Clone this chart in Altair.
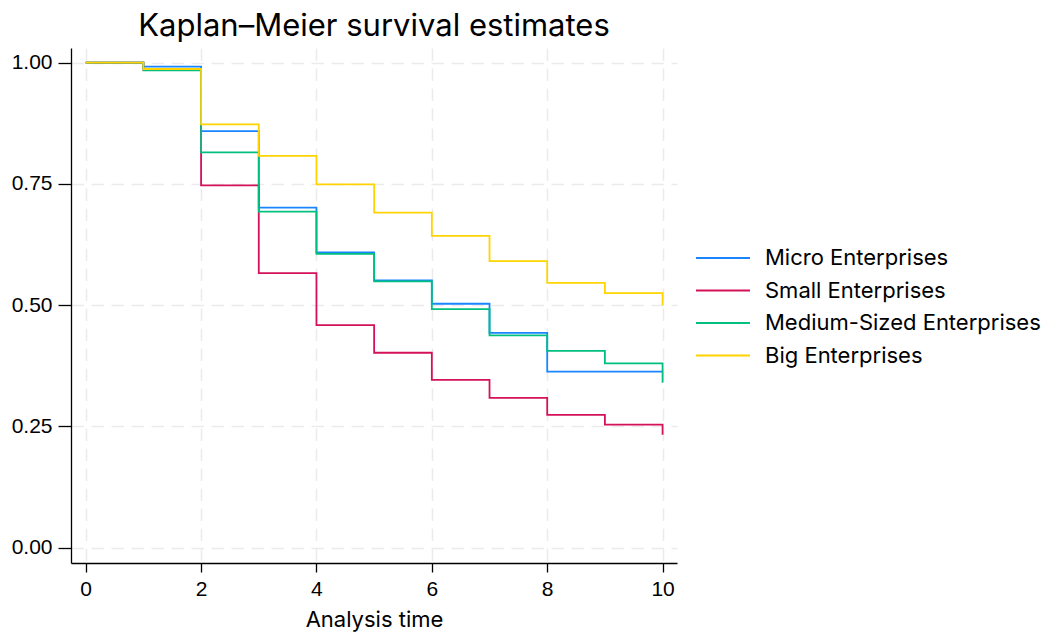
import altair as alt
import pandas as pd

times = [0, 1, 2, 3, 4, 5, 6, 7, 8, 9, 10]
groups = ["Micro Enterprises", "Small Enterprises", "Medium-Sized Enterprises", "Big Enterprises"]
micro = [1.000, 0.992, 0.859, 0.701, 0.609, 0.551, 0.503, 0.443, 0.363, 0.363, 0.363]
small = [1.000, 0.985, 0.747, 0.566, 0.459, 0.402, 0.346, 0.309, 0.274, 0.254, 0.233]
medium = [1.000, 0.984, 0.815, 0.693, 0.606, 0.549, 0.492, 0.438, 0.406, 0.380, 0.340]
big = [1.000, 0.987, 0.873, 0.808, 0.749, 0.691, 0.643, 0.591, 0.546, 0.525, 0.500]
colors = ["#1a85ff", "#d41159", "#00bf7f", "#ffd400"]
x_ticks = [0, 2, 4, 6, 8, 10]
y_ticks = [0.0, 0.25, 0.5, 0.75, 1.0]

rows = []
for gi, (g, vals) in enumerate(zip(groups, [micro, small, medium, big])):
    for t, v in zip(times, vals):
        rows.append({"time": t, "surv": v, "group": g, "order": gi})
df = pd.DataFrame(rows)

FONT = "Inter"
NUMFONT = "Liberation Sans"

chart = alt.Chart(df).mark_line(interpolate="step-after", strokeWidth=1.8).encode(
    x=alt.X("time:Q", title="Analysis time",
            scale=alt.Scale(domain=[-0.255, 10.25], nice=False, zero=False),
            axis=alt.Axis(values=x_ticks, format="d", tickSize=9, labelPadding=6,
                          titlePadding=10, grid=True)),
    y=alt.Y("surv:Q", title=None,
            scale=alt.Scale(domain=[-0.0315, 1.0303], nice=False, zero=False),
            axis=alt.Axis(values=y_ticks, format=".2f", tickSize=13, labelPadding=6,
                          grid=True)),
    color=alt.Color("group:N", sort=groups,
                    scale=alt.Scale(domain=groups, range=colors),
                    legend=alt.Legend(title=None, orient="none", legendX=624, legendY=198,
                                      symbolType="stroke", symbolSize=2916,
                                      symbolStrokeWidth=1.8, clipHeight=24,
                                      rowPadding=8.5, labelOffset=14, padding=0,
                                      labelLimit=1000,
                                      labelFontSize=22, labelFont=FONT, labelColor="black")),
    order=alt.Order("order:Q"),
    detail="group:N",
).properties(
    width=606, height=515,
    title=alt.TitleParams("Kaplan\u2013Meier survival estimates", fontSize=31, font=FONT,
                          fontWeight="normal", color="black", anchor="middle", offset=5),
    autosize=alt.AutoSizeParams(type="none"),
    padding={"left": 63, "top": 40, "right": 367, "bottom": 70},
    background="white",
).configure_view(stroke=None).configure_axis(
    labelFont=NUMFONT, titleFont=FONT, labelFontSize=21, titleFontSize=22,
    labelColor="black", titleColor="black", titleFontWeight="normal",
    domainColor="black", domainWidth=1.3, tickColor="black", tickWidth=1.3,
    gridColor="#ebebeb", gridWidth=1.5, gridDash=[12.5, 7.5],
)

chart.save("out.html", embed_options={"renderer": "svg", "actions": False})
